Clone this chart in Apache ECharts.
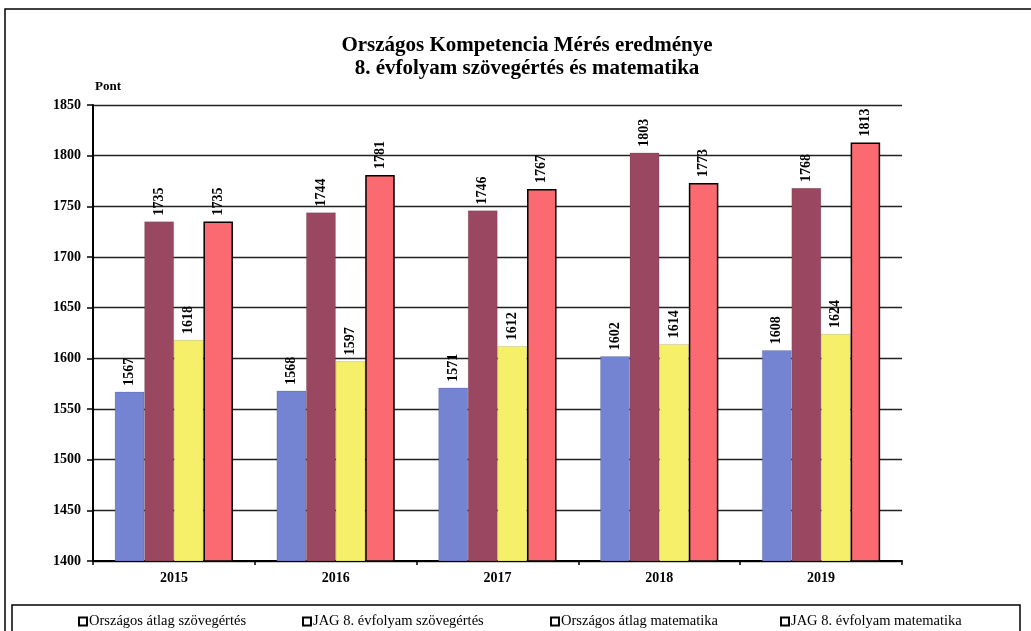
<!DOCTYPE html>
<html><head><meta charset="utf-8">
<script src="https://cdn.jsdelivr.net/npm/echarts@6/dist/echarts.min.js"></script>
<style>html,body{margin:0;padding:0;background:#fff}#c{width:1031px;height:631px}</style>
</head><body><div id="c"></div>
<script>
const categories = ['2015','2016','2017','2018','2019'];
const seriesNames = ['Országos átlag szövegértés','JAG 8. évfolyam szövegértés','Országos átlag matematika','JAG 8. évfolyam matematika'];
const orszSzov = [1567, 1568, 1571, 1602, 1608];
const jagSzov = [1735, 1744, 1746, 1803, 1768];
const orszMat = [1618, 1597, 1612, 1614, 1624];
const jagMat = [1735, 1781, 1767, 1773, 1813];
const colors = ['#7483d2','#9a4862','#f6ef6a','#fa6a70'];
const values = [orszSzov, jagSzov, orszMat, jagMat];
const legendLeft = [78, 302, 550, 780];
const font = '"Liberation Serif", "DejaVu Serif", serif';
const chart = echarts.init(document.getElementById('c'));
chart.setOption({
  animation:false,
  backgroundColor:'#fff',
  textStyle:{fontFamily:font},
  title:{
    text:'Országos Kompetencia Mérés eredménye\n8. évfolyam szövegértés és matematika',
    left:522, textAlign:'center', top:29,
    textStyle:{fontFamily:font,fontWeight:'bold',fontSize:21,lineHeight:23,color:'#000'}
  },
  graphic:[
    {type:'rect',shape:{x:5,y:9,width:1040,height:640},style:{fill:'none',stroke:'#000',lineWidth:1.5},silent:true},
    {type:'rect',shape:{x:12,y:605,width:1008,height:40},style:{fill:'none',stroke:'#000',lineWidth:1.5},silent:true},
    {type:'text',left:95,top:80,style:{text:'Pont',font:'bold 13px '+font,fill:'#000'}}
  ],
  legend: seriesNames.map((n,i)=>({
    left:legendLeft[i], top:614, itemWidth:8, itemHeight:8, itemGap:0, padding:0,
    icon:'rect',
    itemStyle:{color:'#fff',borderColor:'#000',borderWidth:2},
    textStyle:{fontFamily:font,fontSize:14.5,color:'#000',padding:[0,0,0,-3]},
    data:[n]
  })),
  grid:{left:93,right:129,top:105,bottom:70,containLabel:false},
  xAxis:{
    type:'category', data:categories,
    axisLine:{lineStyle:{color:'#000',width:2}},
    axisTick:{show:true,length:4,lineStyle:{color:'#000',width:1.5}},
    axisLabel:{fontFamily:font,fontWeight:'bold',fontSize:14,color:'#000',margin:10}
  },
  yAxis:{
    type:'value', min:1400, max:1850, interval:50,
    axisLine:{show:true,lineStyle:{color:'#000',width:2}},
    axisTick:{show:true,length:6,lineStyle:{color:'#000',width:1.5}},
    axisLabel:{fontFamily:font,fontWeight:'bold',fontSize:14,color:'#000',margin:12,formatter:v=>String(v)},
    splitLine:{lineStyle:{color:'#222',width:1.3}}
  },
  series: seriesNames.map((n,i)=>({
    name:n, type:'bar', data:values[i],
    barGap:'0%', barCategoryGap:'27%',
    itemStyle:{color:colors[i],borderColor:i===3?'#000':'rgba(0,0,0,0.25)',borderWidth:i===3?1.5:0.5},
    label:{show:true,position:'top',rotate:90,align:'left',verticalAlign:'middle',distance:6,
      fontFamily:font,fontWeight:'bold',fontSize:14,color:'#000'}
  }))
});
</script></body></html>
